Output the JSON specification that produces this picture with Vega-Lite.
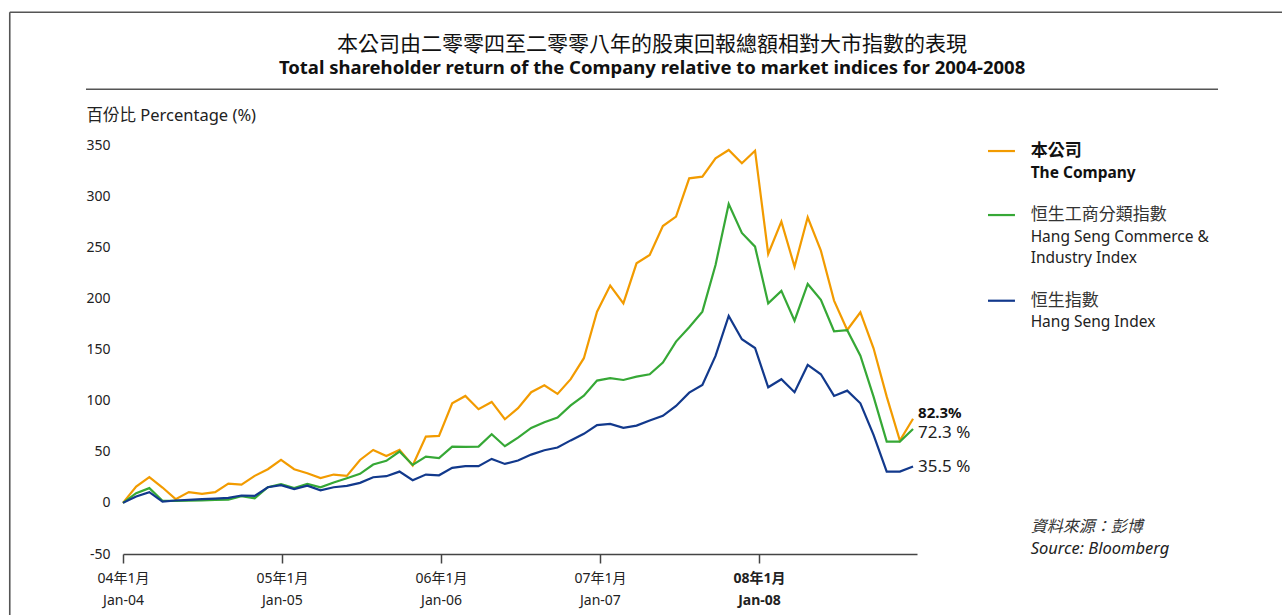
{
  "$schema": "https://vega.github.io/schema/vega-lite/v6.json",
  "width": 794,
  "height": 409,
  "autosize": {"type": "none"},
  "padding": {"left": 123, "top": 145, "right": 365, "bottom": 61},
  "background": "white",
  "config": {"view": {"stroke": null}, "font": "Noto Sans, Noto Sans CJK TC"},
  "datasets": {
    "returns": [
      {"month":0,"series":"The Company","value":0},{"month":1,"series":"The Company","value":15.9},{"month":2,"series":"The Company","value":25.1},{"month":3,"series":"The Company","value":15.0},{"month":4,"series":"The Company","value":3.6},{"month":5,"series":"The Company","value":10.5},{"month":6,"series":"The Company","value":8.8},{"month":7,"series":"The Company","value":10.5},{"month":8,"series":"The Company","value":18.9},{"month":9,"series":"The Company","value":17.9},{"month":10,"series":"The Company","value":26.4},
      {"month":11,"series":"The Company","value":32.9},{"month":12,"series":"The Company","value":42.0},{"month":13,"series":"The Company","value":32.9},{"month":14,"series":"The Company","value":29.0},{"month":15,"series":"The Company","value":24.3},{"month":16,"series":"The Company","value":27.7},{"month":17,"series":"The Company","value":26.4},{"month":18,"series":"The Company","value":42.0},{"month":19,"series":"The Company","value":51.8},{"month":20,"series":"The Company","value":45.9},
      {"month":21,"series":"The Company","value":51.8},{"month":22,"series":"The Company","value":36.5},{"month":23,"series":"The Company","value":64.8},{"month":24,"series":"The Company","value":65.5},{"month":25,"series":"The Company","value":97.4},{"month":26,"series":"The Company","value":104.6},{"month":27,"series":"The Company","value":91.6},{"month":28,"series":"The Company","value":98.7},{"month":29,"series":"The Company","value":81.8},{"month":30,"series":"The Company","value":92.6},
      {"month":31,"series":"The Company","value":108.2},{"month":32,"series":"The Company","value":115.0},{"month":33,"series":"The Company","value":106.6},{"month":34,"series":"The Company","value":121.0},{"month":35,"series":"The Company","value":141.5},{"month":36,"series":"The Company","value":187.0},{"month":37,"series":"The Company","value":212.5},{"month":38,"series":"The Company","value":195.2},{"month":39,"series":"The Company","value":234.3},{"month":40,"series":"The Company","value":242.4},
      {"month":41,"series":"The Company","value":270.8},{"month":42,"series":"The Company","value":279.9},{"month":43,"series":"The Company","value":317.4},{"month":44,"series":"The Company","value":319.0},{"month":45,"series":"The Company","value":337.0},{"month":46,"series":"The Company","value":345.1},{"month":47,"series":"The Company","value":332.1},{"month":48,"series":"The Company","value":344.4},{"month":49,"series":"The Company","value":243.4},{"month":50,"series":"The Company","value":275.0},
      {"month":51,"series":"The Company","value":231.0},{"month":52,"series":"The Company","value":279.3},{"month":53,"series":"The Company","value":246.7},{"month":54,"series":"The Company","value":197.8},{"month":55,"series":"The Company","value":169.1},{"month":56,"series":"The Company","value":186.4},{"month":57,"series":"The Company","value":151.2},{"month":58,"series":"The Company","value":103.9},{"month":59,"series":"The Company","value":61.0},{"month":60,"series":"The Company","value":82.3},

      {"month":0,"series":"Hang Seng Commerce & Industry Index","value":0},{"month":1,"series":"Hang Seng Commerce & Industry Index","value":9.5},{"month":2,"series":"Hang Seng Commerce & Industry Index","value":14.4},{"month":3,"series":"Hang Seng Commerce & Industry Index","value":2.0},{"month":4,"series":"Hang Seng Commerce & Industry Index","value":2.0},{"month":5,"series":"Hang Seng Commerce & Industry Index","value":2.2},{"month":6,"series":"Hang Seng Commerce & Industry Index","value":2.5},{"month":7,"series":"Hang Seng Commerce & Industry Index","value":2.8},{"month":8,"series":"Hang Seng Commerce & Industry Index","value":3.2},{"month":9,"series":"Hang Seng Commerce & Industry Index","value":6.5},{"month":10,"series":"Hang Seng Commerce & Industry Index","value":4.5},
      {"month":11,"series":"Hang Seng Commerce & Industry Index","value":15.3},{"month":12,"series":"Hang Seng Commerce & Industry Index","value":18.3},{"month":13,"series":"Hang Seng Commerce & Industry Index","value":14.4},{"month":14,"series":"Hang Seng Commerce & Industry Index","value":18.6},{"month":15,"series":"Hang Seng Commerce & Industry Index","value":15.2},{"month":16,"series":"Hang Seng Commerce & Industry Index","value":19.9},{"month":17,"series":"Hang Seng Commerce & Industry Index","value":24.1},{"month":18,"series":"Hang Seng Commerce & Industry Index","value":28.4},{"month":19,"series":"Hang Seng Commerce & Industry Index","value":37.5},{"month":20,"series":"Hang Seng Commerce & Industry Index","value":41.1},
      {"month":21,"series":"Hang Seng Commerce & Industry Index","value":50.2},{"month":22,"series":"Hang Seng Commerce & Industry Index","value":37.1},{"month":23,"series":"Hang Seng Commerce & Industry Index","value":45.3},{"month":24,"series":"Hang Seng Commerce & Industry Index","value":43.7},{"month":25,"series":"Hang Seng Commerce & Industry Index","value":55.0},{"month":26,"series":"Hang Seng Commerce & Industry Index","value":54.7},{"month":27,"series":"Hang Seng Commerce & Industry Index","value":55.0},{"month":28,"series":"Hang Seng Commerce & Industry Index","value":67.2},{"month":29,"series":"Hang Seng Commerce & Industry Index","value":55.4},{"month":30,"series":"Hang Seng Commerce & Industry Index","value":63.8},
      {"month":31,"series":"Hang Seng Commerce & Industry Index","value":73.3},{"month":32,"series":"Hang Seng Commerce & Industry Index","value":78.9},{"month":33,"series":"Hang Seng Commerce & Industry Index","value":83.4},{"month":34,"series":"Hang Seng Commerce & Industry Index","value":95.3},{"month":35,"series":"Hang Seng Commerce & Industry Index","value":104.9},{"month":36,"series":"Hang Seng Commerce & Industry Index","value":119.6},{"month":37,"series":"Hang Seng Commerce & Industry Index","value":121.9},{"month":38,"series":"Hang Seng Commerce & Industry Index","value":120.2},{"month":39,"series":"Hang Seng Commerce & Industry Index","value":123.5},{"month":40,"series":"Hang Seng Commerce & Industry Index","value":125.8},
      {"month":41,"series":"Hang Seng Commerce & Industry Index","value":137.2},{"month":42,"series":"Hang Seng Commerce & Industry Index","value":157.7},{"month":43,"series":"Hang Seng Commerce & Industry Index","value":171.8},{"month":44,"series":"Hang Seng Commerce & Industry Index","value":187.0},{"month":45,"series":"Hang Seng Commerce & Industry Index","value":232.7},{"month":46,"series":"Hang Seng Commerce & Industry Index","value":292.3},{"month":47,"series":"Hang Seng Commerce & Industry Index","value":264.0},{"month":48,"series":"Hang Seng Commerce & Industry Index","value":250.6},{"month":49,"series":"Hang Seng Commerce & Industry Index","value":195.2},{"month":50,"series":"Hang Seng Commerce & Industry Index","value":207.3},
      {"month":51,"series":"Hang Seng Commerce & Industry Index","value":178.2},{"month":52,"series":"Hang Seng Commerce & Industry Index","value":214.1},{"month":53,"series":"Hang Seng Commerce & Industry Index","value":198.5},{"month":54,"series":"Hang Seng Commerce & Industry Index","value":167.8},{"month":55,"series":"Hang Seng Commerce & Industry Index","value":168.8},{"month":56,"series":"Hang Seng Commerce & Industry Index","value":144.0},{"month":57,"series":"Hang Seng Commerce & Industry Index","value":103.9},{"month":58,"series":"Hang Seng Commerce & Industry Index","value":59.9},{"month":59,"series":"Hang Seng Commerce & Industry Index","value":59.9},{"month":60,"series":"Hang Seng Commerce & Industry Index","value":72.3},

      {"month":0,"series":"Hang Seng Index","value":0},{"month":1,"series":"Hang Seng Index","value":6.2},{"month":2,"series":"Hang Seng Index","value":10.5},{"month":3,"series":"Hang Seng Index","value":1.3},{"month":4,"series":"Hang Seng Index","value":2.3},{"month":5,"series":"Hang Seng Index","value":2.9},{"month":6,"series":"Hang Seng Index","value":3.6},{"month":7,"series":"Hang Seng Index","value":4.2},{"month":8,"series":"Hang Seng Index","value":4.9},{"month":9,"series":"Hang Seng Index","value":7.2},{"month":10,"series":"Hang Seng Index","value":6.8},
      {"month":11,"series":"Hang Seng Index","value":15.3},{"month":12,"series":"Hang Seng Index","value":17.3},{"month":13,"series":"Hang Seng Index","value":13.4},{"month":14,"series":"Hang Seng Index","value":16.9},{"month":15,"series":"Hang Seng Index","value":12.3},{"month":16,"series":"Hang Seng Index","value":15.3},{"month":17,"series":"Hang Seng Index","value":16.6},{"month":18,"series":"Hang Seng Index","value":19.6},{"month":19,"series":"Hang Seng Index","value":25.1},{"month":20,"series":"Hang Seng Index","value":26.1},
      {"month":21,"series":"Hang Seng Index","value":30.6},{"month":22,"series":"Hang Seng Index","value":22.2},{"month":23,"series":"Hang Seng Index","value":27.7},{"month":24,"series":"Hang Seng Index","value":27.0},{"month":25,"series":"Hang Seng Index","value":34.2},{"month":26,"series":"Hang Seng Index","value":35.9},{"month":27,"series":"Hang Seng Index","value":35.9},{"month":28,"series":"Hang Seng Index","value":43.0},{"month":29,"series":"Hang Seng Index","value":38.1},{"month":30,"series":"Hang Seng Index","value":41.4},
      {"month":31,"series":"Hang Seng Index","value":47.2},{"month":32,"series":"Hang Seng Index","value":51.5},{"month":33,"series":"Hang Seng Index","value":54.1},{"month":34,"series":"Hang Seng Index","value":61.1},{"month":35,"series":"Hang Seng Index","value":67.5},{"month":36,"series":"Hang Seng Index","value":76.0},{"month":37,"series":"Hang Seng Index","value":77.2},{"month":38,"series":"Hang Seng Index","value":73.3},{"month":39,"series":"Hang Seng Index","value":75.6},{"month":40,"series":"Hang Seng Index","value":80.5},
      {"month":41,"series":"Hang Seng Index","value":85.1},{"month":42,"series":"Hang Seng Index","value":94.8},{"month":43,"series":"Hang Seng Index","value":107.8},{"month":44,"series":"Hang Seng Index","value":115.4},{"month":45,"series":"Hang Seng Index","value":143.7},{"month":46,"series":"Hang Seng Index","value":182.8},{"month":47,"series":"Hang Seng Index","value":160.0},{"month":48,"series":"Hang Seng Index","value":151.5},{"month":49,"series":"Hang Seng Index","value":113.1},{"month":50,"series":"Hang Seng Index","value":120.9},
      {"month":51,"series":"Hang Seng Index","value":108.2},{"month":52,"series":"Hang Seng Index","value":134.9},{"month":53,"series":"Hang Seng Index","value":125.8},{"month":54,"series":"Hang Seng Index","value":104.6},{"month":55,"series":"Hang Seng Index","value":109.8},{"month":56,"series":"Hang Seng Index","value":97.4},{"month":57,"series":"Hang Seng Index","value":66.5},{"month":58,"series":"Hang Seng Index","value":30.6},{"month":59,"series":"Hang Seng Index","value":30.6},{"month":60,"series":"Hang Seng Index","value":35.5}
    ]
  },
  "data": {"name": "returns"},
  "layer": [
    {
      "mark": {"type": "line", "strokeWidth": 2.2},
      "encoding": {
        "x": {
          "field": "month", "type": "quantitative",
          "scale": {"domain": [0, 60.3], "nice": false, "zero": false},
          "axis": {
            "title": null, "values": [0, 12.07, 24.15, 36.22, 48.3],
            "labelExpr": "datum.value < 6 ? ['04年1月', 'Jan-04'] : datum.value < 18 ? ['05年1月', 'Jan-05'] : datum.value < 30 ? ['06年1月', 'Jan-06'] : datum.value < 42 ? ['07年1月', 'Jan-07'] : ['08年1月', 'Jan-08']",
            "grid": false, "domain": true, "domainColor": "#444", "domainWidth": 1.5,
            "ticks": true, "tickColor": "#444", "tickWidth": 1.5, "tickSize": 9,
            "labelPadding": 8, "labelFontSize": 14, "labelLineHeight": 22, "labelColor": "#222",
            "labelFlush": false, "labelOverlap": false, "labelAlign": "center", "labelBaseline": "top",
            "labelFont": "Noto Sans, Noto Sans CJK TC",
            "labelFontWeight": {"condition": {"test": "datum.value > 40", "value": "bold"}, "value": "normal"}
          }
        },
        "y": {
          "field": "value", "type": "quantitative",
          "scale": {"domain": [-50, 350], "nice": false, "zero": false},
          "axis": {
            "title": "百份比 Percentage (%)", "values": [-50, 0, 50, 100, 150, 200, 250, 300, 350],
            "labelExpr": "'' + datum.value",
            "grid": false, "domain": false, "ticks": false, "labelPadding": 13,
            "labelFontSize": 14, "labelColor": "#222", "labelFlush": false, "labelFont": "Noto Sans",
            "titleAngle": 0, "titleAlign": "left", "titleBaseline": "middle", "titleX": -37, "titleY": -30,
            "titleFontSize": 16.5, "titleFontWeight": "normal", "titleColor": "#222", "titleFont": "Noto Sans, Noto Sans CJK TC"
          }
        },
        "color": {
          "field": "series", "type": "nominal",
          "scale": {"domain": ["The Company", "Hang Seng Commerce & Industry Index", "Hang Seng Index"], "range": ["#F29B00", "#36A836", "#12398C"]},
          "legend": null
        }
      }
    },
    {
      "transform": [{"filter": "datum.month == 60 && datum.series == 'The Company'"}, {"calculate": "format(datum.value, '.1f') + '%'", "as": "label"}],
      "mark": {"type": "text", "align": "left", "baseline": "middle", "dx": 5, "dy": -6, "fontSize": 15, "fontWeight": "bold", "color": "#111"},
      "encoding": {"x": {"field": "month", "type": "quantitative"}, "y": {"field": "value", "type": "quantitative"}, "text": {"field": "label"}}
    },
    {
      "transform": [{"filter": "datum.month == 60 && datum.series == 'Hang Seng Commerce & Industry Index'"}, {"calculate": "format(datum.value, '.1f') + ' %'", "as": "label"}],
      "mark": {"type": "text", "align": "left", "baseline": "middle", "dx": 5, "dy": 4, "fontSize": 17, "color": "#222"},
      "encoding": {"x": {"field": "month", "type": "quantitative"}, "y": {"field": "value", "type": "quantitative"}, "text": {"field": "label"}}
    },
    {
      "transform": [{"filter": "datum.month == 60 && datum.series == 'Hang Seng Index'"}, {"calculate": "format(datum.value, '.1f') + ' %'", "as": "label"}],
      "mark": {"type": "text", "align": "left", "baseline": "middle", "dx": 5, "dy": 0, "fontSize": 17, "color": "#222"},
      "encoding": {"x": {"field": "month", "type": "quantitative"}, "y": {"field": "value", "type": "quantitative"}, "text": {"field": "label"}}
    },
    {
      "data": {"values": [{}]},
      "mark": {"type": "rule", "color": "#F29B00", "strokeWidth": 2.2},
      "encoding": {"x": {"datum": 65.69}, "x2": {"datum": 67.74}, "y": {"datum": 344.1}}
    },
    {
      "data": {"values": [{}]},
      "mark": {"type": "rule", "color": "#36A836", "strokeWidth": 2.2},
      "encoding": {"x": {"datum": 65.69}, "x2": {"datum": 67.74}, "y": {"datum": 281.5}}
    },
    {
      "data": {"values": [{}]},
      "mark": {"type": "rule", "color": "#12398C", "strokeWidth": 2.2},
      "encoding": {"x": {"datum": 65.69}, "x2": {"datum": 67.74}, "y": {"datum": 197.7}}
    },
    {
      "data": {"values": [{}]},
      "mark": {"type": "text", "text": "本公司", "align": "left", "baseline": "middle", "fontSize": 17, "fontWeight": "bold", "color": "#111", "font": "Noto Sans CJK TC"},
      "encoding": {"x": {"datum": 68.93}, "y": {"datum": 344.1}}
    },
    {
      "data": {"values": [{}]},
      "mark": {"type": "text", "text": "The Company", "align": "left", "baseline": "middle", "fontSize": 15.5, "fontWeight": "bold", "color": "#111"},
      "encoding": {"x": {"datum": 68.93}, "y": {"datum": 322.9}}
    },
    {
      "data": {"values": [{}]},
      "mark": {"type": "text", "text": "恒生工商分類指數", "align": "left", "baseline": "middle", "fontSize": 17, "color": "#333", "font": "Noto Sans CJK TC"},
      "encoding": {"x": {"datum": 68.93}, "y": {"datum": 281.5}}
    },
    {
      "data": {"values": [{}]},
      "mark": {"type": "text", "text": "Hang Seng Commerce &", "align": "left", "baseline": "middle", "fontSize": 15.5, "color": "#222"},
      "encoding": {"x": {"datum": 68.93}, "y": {"datum": 260.3}}
    },
    {
      "data": {"values": [{}]},
      "mark": {"type": "text", "text": "Industry Index", "align": "left", "baseline": "middle", "fontSize": 15.5, "color": "#222"},
      "encoding": {"x": {"datum": 68.93}, "y": {"datum": 239.2}}
    },
    {
      "data": {"values": [{}]},
      "mark": {"type": "text", "text": "恒生指數", "align": "left", "baseline": "middle", "fontSize": 17, "color": "#333", "font": "Noto Sans CJK TC"},
      "encoding": {"x": {"datum": 68.93}, "y": {"datum": 197.7}}
    },
    {
      "data": {"values": [{}]},
      "mark": {"type": "text", "text": "Hang Seng Index", "align": "left", "baseline": "middle", "fontSize": 15.5, "color": "#222"},
      "encoding": {"x": {"datum": 68.93}, "y": {"datum": 176.6}}
    },
    {
      "data": {"values": [{}]},
      "mark": {"type": "text", "text": "資料來源：彭博", "align": "left", "baseline": "middle", "fontSize": 16, "fontStyle": "italic", "color": "#333", "font": "Noto Sans CJK TC"},
      "encoding": {"x": {"datum": 68.93}, "y": {"datum": -23.8}}
    },
    {
      "data": {"values": [{}]},
      "mark": {"type": "text", "text": "Source: Bloomberg", "align": "left", "baseline": "middle", "fontSize": 16.5, "fontStyle": "italic", "color": "#222"},
      "encoding": {"x": {"datum": 68.93}, "y": {"datum": -45.2}}
    },
    {
      "data": {"values": [{}]},
      "mark": {"type": "text", "text": "本公司由二零零四至二零零八年的股東回報總額相對大市指數的表現", "align": "center", "baseline": "middle", "fontSize": 21, "color": "#111", "font": "Noto Sans CJK TC"},
      "encoding": {"x": {"datum": 40.18}, "y": {"datum": 447.8}}
    },
    {
      "data": {"values": [{}]},
      "mark": {"type": "text", "text": "Total shareholder return of the Company relative to market indices for 2004-2008", "align": "center", "baseline": "middle", "fontSize": 18.5, "fontWeight": "bold", "color": "#111", "font": "Noto Sans"},
      "encoding": {"x": {"datum": 40.18}, "y": {"datum": 425}}
    },
    {
      "data": {"values": [{}]},
      "mark": {"type": "rule", "color": "#555", "strokeWidth": 1.6},
      "encoding": {"x": {"datum": -2.81}, "x2": {"datum": 83.16}, "y": {"datum": 404.5}}
    },
    {
      "data": {"values": [{}]},
      "mark": {"type": "rule", "color": "#555", "strokeWidth": 1.6},
      "encoding": {"x": {"datum": -8.6}, "x2": {"datum": 92}, "y": {"datum": 479.8}}
    },
    {
      "data": {"values": [{}]},
      "mark": {"type": "rule", "color": "#555", "strokeWidth": 1.6},
      "encoding": {"x": {"datum": -8.6}, "y": {"datum": 479.8}, "y2": {"datum": -125}}
    }
  ]
}
